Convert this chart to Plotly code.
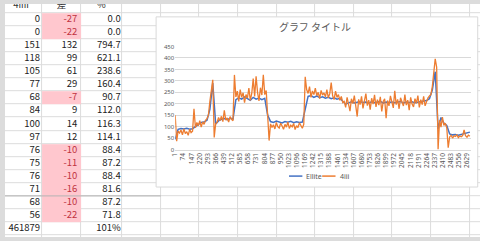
import plotly.graph_objects as go

# ---------------- sheet data ----------------
sheet_headers = ["4iiii", "差", "%"]
col_4iiii = ["0", "0", "151", "118", "105", "77", "68", "84", "100", "97",
             "76", "75", "76", "71", "68", "56", "461879"]
col_diff = [-27, -22, 132, 99, 61, 29, -7, 9, 14, 12, -10, -11, -10, -16, -10, -22, None]
col_pct = ["0.0", "0.0", "794.7", "621.1", "238.6", "160.4", "90.7", "112.0", "116.3",
           "114.1", "88.4", "87.2", "88.4", "81.6", "87.2", "71.8", "101%"]

# ---------------- chart data ----------------
chart_title = "グラフ タイトル"
series_names = ["Ellite", "4iii"]
x_tick_labels = [1, 74, 147, 220, 293, 366, 439, 512, 585, 658, 731, 804, 877, 950, 1023,
                 1096, 1169, 1242, 1315, 1388, 1461, 1534, 1607, 1680, 1753, 1826, 1899,
                 1972, 2045, 2118, 2191, 2264, 2337, 2410, 2483, 2556, 2629]
y_ticks = [0, 50, 100, 150, 200, 250, 300, 350, 400, 450]

ellite_x = list(range(1, 2654, 26))
ellite_y = [45, 88, 92, 90, 93, 89, 91, 100, 112, 118, 120, 128, 175, 290, 112, 125, 132, 135,
            130, 136, 133,
            218,
            226, 220, 230, 222, 215, 228, 220, 225, 218, 224,
            150,
            122, 118, 124, 120, 116, 122, 119, 123, 117, 121, 118, 120,
            180,
            232, 236, 228, 234, 226, 230, 224, 228, 222, 226, 220, 224,
            212,
            198, 204, 208, 203, 206, 210, 205, 207, 202, 209, 204, 206, 211, 203, 207,
            205, 208, 204, 206, 210, 203, 207, 205, 209, 204, 206, 208, 210, 214, 222,
            260, 340, 90, 140, 115, 105,
            68, 64, 66, 62, 65, 70, 72, 76]

iii_x = list(range(1, 2654, 13))
iii_y = [150, 36, 80,
         72, 85, 64, 90, 70, 78, 62, 88, 74, 80,
         178,
         95, 118, 104, 126, 98, 121, 110, 128,
         135, 150, 210, 262, 305, 53, 112,
         118, 140, 126, 145, 122, 171, 128, 138, 120, 144, 132, 126,
         326,
         230, 255, 210, 262, 228, 248, 205, 240, 225, 268, 215, 245, 310, 232, 320, 250,
         212, 270, 238, 327, 240, 258,
         120, 39,
         112, 96, 108, 90, 118, 100, 94, 115, 103, 88, 110, 98, 120, 92, 106, 99, 114, 87,
         104, 96, 117, 101, 93, 110,
         318,
         262, 245, 275, 228, 256, 240, 268, 235, 250, 222, 258, 238, 247, 230, 262, 226,
         244, 292, 235, 218, 255, 228, 240, 215, 232, 205,
         210, 184, 228, 192, 168, 222, 201, 236, 186, 144, 219, 196, 232, 180, 212, 244,
         192, 216, 174, 224, 198, 239, 186, 218, 194, 230, 166, 210, 222, 137, 214, 191,
         234, 200, 182, 257, 196, 219, 178, 226, 204, 190, 240, 194, 216, 172, 228, 199,
         186, 222, 202, 236, 184, 218, 196, 232, 191, 214, 226, 234,
         240, 275, 330, 396, 360, 0, 128,
         98, 142, 105, 115, 95,
         8,
         55, 62, 50, 60, 57, 64, 52, 59, 56, 61, 86, 60, 54, 63, 58]

# ---------------- layout constants ----------------
W, H = 480, 241
GRID = "#dcdcdc"
TXT = "#595959"
BLUE, ORANGE = "#4472c4", "#ed7d31"
col_edges = [-5, 37.5, 76.5, 118.5, 157.5, 196.5, 235.5, 274.5, 313.5, 352.5, 391.5,
             430.5, 469.5, 486]
ROW_TOP, ROW_H = 9.5, 13.5
row_edges = [-4] + [ROW_TOP + ROW_H * k for k in range(19)]
n_rows = len(row_edges) - 1
n_cols = len(col_edges) - 1
box_l, box_r, box_t, box_b = 152.7, 477.7, 13.3, 189.3
plot_l, plot_r, plot_t, plot_b = 172, 471, 44, 150.5

fig = go.Figure()

# sheet cells
grid_z = [[0] * n_cols for _ in range(n_rows)]
fig.add_trace(go.Heatmap(x=col_edges, y=row_edges, z=grid_z,
                         colorscale=[[0, "white"], [1, "white"]], zmin=0, zmax=1,
                         showscale=False, xgap=1, ygap=1, hoverinfo="skip"))
pink_z = [[None] * n_cols for _ in range(n_rows)]
for r, d in enumerate(col_diff):
    if d is not None and d < 0:
        pink_z[r + 1][1] = 1
fig.add_trace(go.Heatmap(x=col_edges, y=row_edges, z=pink_z,
                         colorscale=[[0, "#ffc7ce"], [1, "#ffc7ce"]], zmin=0, zmax=1,
                         showscale=False, hoverinfo="skip"))

# darker page-break line under the 14th data row
brk = row_edges[15]
fig.add_trace(go.Scatter(x=[col_edges[0], col_edges[4]], y=[brk, brk], mode="lines",
                         line=dict(color="#b4b4b4", width=1), hoverinfo="skip",
                         showlegend=False))

row_centers = [(row_edges[r] + row_edges[r + 1]) / 2 for r in range(1, n_rows)]
SHEET_FONT = "Noto Sans CJK JP"
FS = 9.5
fig.add_trace(go.Scatter(
    x=[(col_edges[c] + col_edges[c + 1]) / 2 for c in range(3)], y=[2.0] * 3,
    text=sheet_headers, mode="text", textposition="middle center",
    textfont=dict(family=SHEET_FONT, size=FS, color="#333333"),
    hoverinfo="skip", showlegend=False))
fig.add_trace(go.Scatter(
    x=[col_edges[1] - 2] * len(col_4iiii), y=row_centers[:len(col_4iiii)],
    text=col_4iiii, mode="text", textposition="middle left",
    textfont=dict(family=SHEET_FONT, size=FS, color="#222222"),
    hoverinfo="skip", showlegend=False))
dx = [col_edges[2] - 3.5 for d in col_diff if d is not None]
dy = [row_centers[i] for i, d in enumerate(col_diff) if d is not None]
dt = [str(d) for d in col_diff if d is not None]
dc = ["#c0333f" if d < 0 else "#222222" for d in col_diff if d is not None]
fig.add_trace(go.Scatter(
    x=dx, y=dy, text=dt, mode="text", textposition="middle left",
    textfont=dict(family=SHEET_FONT, size=FS, color=dc),
    hoverinfo="skip", showlegend=False))
fig.add_trace(go.Scatter(
    x=[col_edges[3] - 1.5] * len(col_pct), y=row_centers[:len(col_pct)],
    text=col_pct, mode="text", textposition="middle left",
    textfont=dict(family=SHEET_FONT, size=FS, color="#222222"),
    hoverinfo="skip", showlegend=False))

# chart container
fig.add_trace(go.Scatter(
    x=[box_l, box_r, box_r, box_l, box_l], y=[box_t, box_t, box_b, box_b, box_t],
    mode="lines", fill="toself", fillcolor="white",
    line=dict(color="#d9d9d9", width=1), hoverinfo="skip", showlegend=False))

# chart series
fig.add_trace(go.Scatter(x=ellite_x, y=ellite_y, mode="lines", name=series_names[0],
                         line=dict(color=BLUE, width=1.5), showlegend=False,
                         xaxis="x2", yaxis="y2"))
fig.add_trace(go.Scatter(x=iii_x, y=iii_y, mode="lines", name=series_names[1],
                         line=dict(color=ORANGE, width=1.3), showlegend=False,
                         xaxis="x2", yaxis="y2"))

# compact Excel-style legend
leg_y = 1 - 178 / H
shapes = []
annots = []
for (x0, x1, tx), name, col in zip([(287, 300.5, 302.5), (320.5, 334, 336)],
                                   series_names, [BLUE, ORANGE]):
    shapes.append(dict(type="line", xref="paper", yref="paper", x0=x0 / W, x1=x1 / W,
                       y0=leg_y, y1=leg_y, line=dict(color=col, width=1.5)))
    annots.append(dict(text=name, xref="paper", yref="paper", x=tx / W, y=leg_y,
                       xanchor="left", yanchor="middle", showarrow=False,
                       font=dict(family="Noto Sans", size=7, color=TXT)))

fig.update_layout(
    width=W, height=H, autosize=False,
    margin=dict(l=0, r=0, t=0, b=0, pad=0),
    paper_bgcolor=GRID, plot_bgcolor="rgba(0,0,0,0)",
    xaxis=dict(domain=[0, 1], range=[0, W], visible=False, fixedrange=True),
    yaxis=dict(domain=[0, 1], range=[H, 0], visible=False, fixedrange=True),
    xaxis2=dict(domain=[plot_l / W, plot_r / W], anchor="y2", range=[1, 2664],
                tickmode="array", tickvals=x_tick_labels,
                ticktext=[str(v) for v in x_tick_labels], tickangle=-90,
                tickfont=dict(family="Noto Sans", size=6.5, color=TXT),
                showgrid=False, zeroline=False, showline=True, linecolor="#d9d9d9",
                linewidth=1, ticks=""),
    yaxis2=dict(domain=[1 - plot_b / H, 1 - plot_t / H], anchor="x2", range=[0, 450],
                tickmode="array", tickvals=y_ticks,
                tickfont=dict(family="Noto Sans", size=6, color=TXT),
                showgrid=True, gridcolor="#d9d9d9", gridwidth=1, zeroline=False,
                showline=False, ticks=""),
    title=dict(text=chart_title, x=315 / W, y=1 - 27 / H, xanchor="center",
               yanchor="middle", font=dict(family="Noto Sans CJK JP", size=10, color=TXT)),
    shapes=shapes, annotations=annots,
    showlegend=False,
)

fig.write_html("out.html")
